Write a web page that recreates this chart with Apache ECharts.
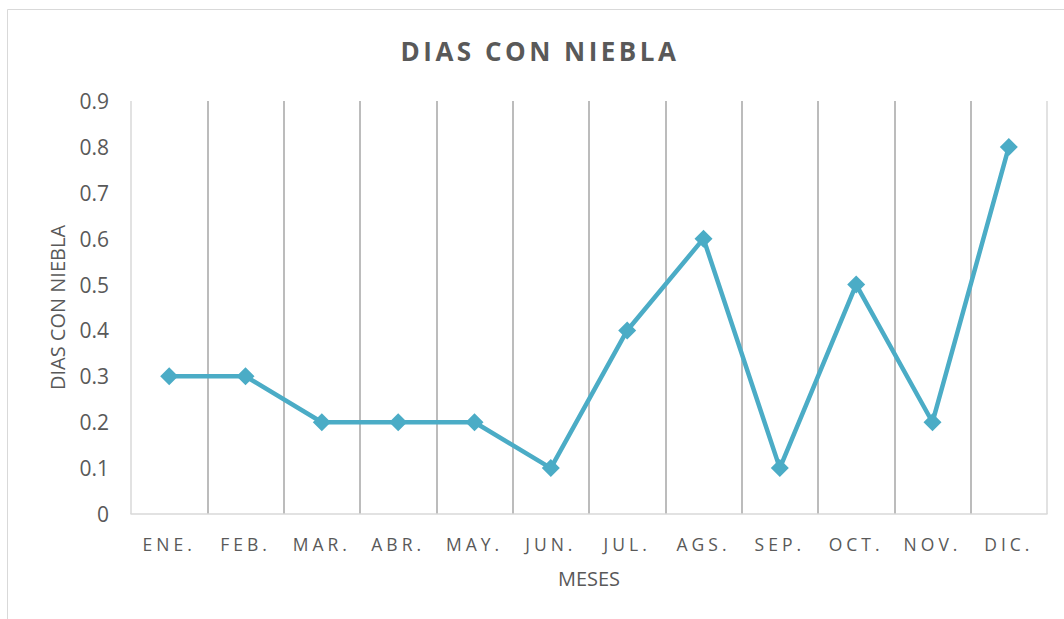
<!DOCTYPE html>
<html>
<head>
<meta charset="utf-8">
<script src="https://cdn.jsdelivr.net/npm/echarts@6/dist/echarts.min.js"></script>
<style>
html,body{margin:0;padding:0;background:#fff;}
#chart{width:1064px;height:619px;}
#chart text[style*="26px"]{letter-spacing:3.5px;}
#chart text[style*="17.5px"]{letter-spacing:4px;}
</style>
</head>
<body>
<div id="chart"></div>
<script>
var categories = ['ENE.','FEB.','MAR.','ABR.','MAY.','JUN.','JUL.','AGS.','SEP.','OCT.','NOV.','DIC.'];
var values = [0.3,0.3,0.2,0.2,0.2,0.1,0.4,0.6,0.1,0.5,0.2,0.8];
var chartTitle = 'DIAS CON NIEBLA';
var yName = 'DIAS CON NIEBLA';
var xName = 'MESES';

var splitColors = ['#d9d9d9'];
for (var i = 1; i < categories.length; i++) splitColors.push('#a6a6a6');
splitColors.push('#d9d9d9');

var chart = echarts.init(document.getElementById('chart'), null, {renderer:'svg'});
chart.setOption({
  animation:false,
  backgroundColor:'#fff',
  graphic:[{type:'rect',shape:{x:7.5,y:9.5,width:1100,height:700},style:{fill:'none',stroke:'#d9d9d9',lineWidth:1},z:-1}],
  title:{text:chartTitle,left:535,textAlign:'center',top:33,
    textStyle:{fontFamily:'Open Sans',fontSize:'26px',fontWeight:'bold',color:'#595959'}},
  grid:{left:131,right:17,top:101,bottom:105,containLabel:false},
  xAxis:{type:'category',data:categories,boundaryGap:true,
    name:xName,nameLocation:'middle',nameGap:54,
    nameTextStyle:{fontFamily:'Open Sans',fontSize:20,color:'#595959'},
    axisLine:{show:true,lineStyle:{color:'#d9d9d9',width:1.5}},
    axisTick:{show:false},
    axisLabel:{fontFamily:'Open Sans',fontSize:'17.5px',color:'#595959',margin:21},
    splitLine:{show:true,lineStyle:{color:splitColors,width:1.5}}},
  yAxis:{type:'value',min:0,max:0.9,interval:0.1,
    name:yName,nameLocation:'middle',nameGap:64,nameRotate:90,
    nameTextStyle:{fontFamily:'Open Sans',fontSize:20,color:'#595959'},
    axisLine:{show:false},axisTick:{show:false},
    axisLabel:{fontFamily:'Open Sans',fontSize:21,color:'#595959',margin:22,
      formatter:function(v){return String(Math.round(v*10)/10);}},
    splitLine:{show:false}},
  series:[{type:'line',data:values,symbol:'diamond',symbolSize:18,
    lineStyle:{color:'#4bacc6',width:4.5},
    itemStyle:{color:'#4bacc6'}}]
});
</script>
</body>
</html>
